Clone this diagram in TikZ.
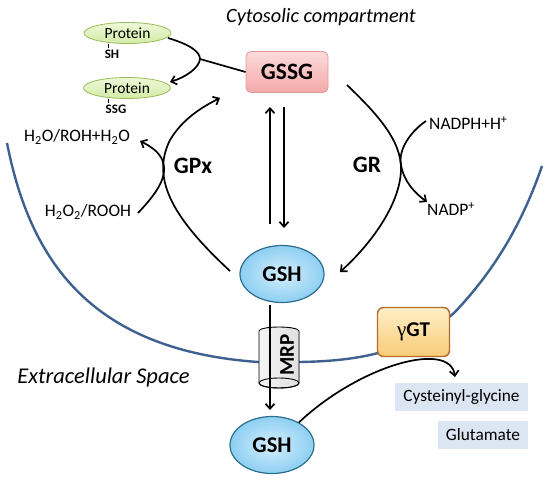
\documentclass[tikz,border=0pt]{standalone}
\usepackage{fontspec}
\setmainfont{Carlito}
\newfontfamily\gsym{Liberation Serif}
\usetikzlibrary{arrows.meta,shapes.geometric}
\definecolor{membr}{HTML}{3F6190}
\definecolor{protlt}{HTML}{EEF8D8}
\definecolor{protdk}{HTML}{D3EBA6}
\definecolor{protbd}{HTML}{9BBB59}
\definecolor{gshlt}{HTML}{D6EFFC}
\definecolor{gshdk}{HTML}{8DCFF2}
\definecolor{gshbd}{HTML}{2D6E8E}
\definecolor{gssglt}{HTML}{FBDADA}
\definecolor{gssgdk}{HTML}{F4A9A9}
\definecolor{gssgbd}{HTML}{E39C9C}
\definecolor{ggtlt}{HTML}{FEEFC8}
\definecolor{ggtdk}{HTML}{F9CB78}
\definecolor{ggtbd}{HTML}{B46A2A}
\definecolor{prodbg}{HTML}{DCE6F2}
\tikzset{
  lbl/.style={font=\fontsize{17.5}{20}\selectfont, inner sep=0},
  enz/.style={font=\bfseries\fontsize{23.5}{26}\selectfont, inner sep=0},
  title/.style={font=\itshape\fontsize{20.3}{24}\selectfont, inner sep=0},
  conn/.style={line width=1.7pt, draw=black},
  memb/.style={line width=2.4pt, draw=membr},
  protein/.style={ellipse, minimum width=87, minimum height=21, inner sep=0, draw=protbd, line width=0.8pt, top color=protlt, bottom color=protdk, font=\fontsize{15.5}{17}\selectfont},
  tag/.style={font=\bfseries\fontsize{13}{15}\selectfont, inner sep=0},
  gshnode/.style={ellipse, minimum width=84, minimum height=57, inner sep=0, draw=gshbd, line width=1.2pt, inner color=gshlt, outer color=gshdk, font=\bfseries\fontsize{22.5}{25}\selectfont},
  gssgnode/.style={rectangle, rounded corners=5pt, minimum width=82, minimum height=41, inner sep=0, draw=gssgbd, line width=0.9pt, top color=gssglt, bottom color=gssgdk, font=\bfseries\fontsize{23.5}{26}\selectfont},
  ggtnode/.style={rectangle, rounded corners=6pt, minimum width=72, minimum height=49, inner sep=0, draw=ggtbd, line width=1.4pt, top color=ggtlt, bottom color=ggtdk, font=\bfseries\fontsize{21}{24}\selectfont},
  prod/.style={rectangle, fill=prodbg, inner sep=0, minimum height=28, font=\fontsize{17.3}{20}\selectfont},
}
\begin{document}
\begin{tikzpicture}[x=1pt,y=-1pt,>={Straight Barb[length=5pt,width=9pt]}]
\useasboundingbox (0,0) rectangle (550,482);
\fill[white] (0,0) rectangle (550,482);

% membrane
\draw[memb] (7,143) .. controls (30,260) and (90,350) .. (258,362) -- (300,362)
  .. controls (360,361) and (410,352) .. (455,312)
  .. controls (490,275) and (520,230) .. (542,166);

% MRP cylinder
\filldraw[draw=black, line width=0.9pt, left color=gray!8, right color=gray!25]
  (259,331) arc[start angle=180,end angle=360,x radius=20,y radius=4]
  -- (299,383) arc[start angle=0,end angle=180,x radius=20,y radius=5] -- cycle;
\draw[black, line width=0.9pt] (279,383) ellipse[x radius=20,y radius=5];

% nodes
\node[title] (cyto) at (321,17) {Cytosolic compartment};
\node[title, font=\itshape\fontsize{22.5}{26}\selectfont] (extra) at (103.5,377) {Extracellular Space};
\node[protein] (p1) at (127.5,33) {Protein};
\node[protein] (p2) at (127,88) {Protein};
\node[tag] (sh) at (112,54) {SH};
\node[tag] (ssg) at (116,109) {SSG};
\draw[black, line width=0.7pt] (108,43.5) -- (108,47.5);
\draw[black, line width=0.7pt] (108,98.5) -- (108,102.5);
\node[gssgnode] (gssg) at (287,72) {GSSG};
\node[gshnode] (gsh1) at (282,274) {GSH};
\node[gshnode] (gsh2) at (272,445) {GSH};
\node[ggtnode] (ggt) at (413.5,332) {{\gsym\mdseries γ}GT};
\node[prod, minimum width=133] (cys) at (461.5,397) {Cysteinyl-glycine};
\node[prod, minimum width=90] (glu) at (483,434.5) {Glutamate};
\node[enz] (gpx) at (193,166) {GPx};
\node[enz] (gr) at (367,165) {GR};
\node[lbl] (h2o) at (77,137) {H\textsubscript{2}O/ROH+H\textsubscript{2}O};
\node[lbl] (h2o2) at (88,212) {H\textsubscript{2}O\textsubscript{2}/ROOH};
\node[lbl, anchor=west] (nadph) at (429,123) {NADPH+H\textsuperscript{+}};
\node[lbl, anchor=west] (nadp) at (427,209) {NADP\textsuperscript{+}};
\node[font=\bfseries\fontsize{21}{24}\selectfont, rotate=90, inner sep=0] (mrp) at (287,355) {MRP};

% protein glutathionylation
\coordinate (j) at (200,59);
\coordinate (p1e) at (168,38);
\coordinate (p2e) at (170,82);
\draw[conn, ->] (p1e) .. controls (188,44) and (200,51) .. (j)
   .. controls (199,68) and (186,77) .. (p2e);
\draw[conn] (gssg.west) -- (j);

% GSSG <-> GSH
\coordinate (up1) at (270,224);
\coordinate (up2) at (270,107);
\coordinate (dn1) at (284,107);
\coordinate (dn2) at (284,228);
\draw[conn, ->] (up1) -- (up2);
\draw[conn, ->] (dn1) -- (dn2);

% GPx
\coordinate (gpxs) at (230,271);
\coordinate (gpxe) at (220,98);
\draw[conn, ->] (gpxs) .. controls (175,220) and (150,180) .. (170,140)
   .. controls (182,120) and (200,108) .. (gpxe);
\coordinate (perox) at (138,213);
\coordinate (water) at (140,141);
\draw[conn, ->] (perox) .. controls (155,195) and (168,178) .. (163,162)
   .. controls (160,152) and (150,146) .. (water);

% GR
\coordinate (grs) at (347,85);
\coordinate (gre) at (340,272);
\draw[conn, ->] (grs) .. controls (375,112) and (402,140) .. (401,170)
   .. controls (400,205) and (370,245) .. (gre);
\coordinate (nadphs) at (426,121);
\coordinate (nadpe) at (427,202);
\draw[conn, ->] (nadphs) .. controls (410,132) and (398,150) .. (401,165)
   .. controls (404,182) and (415,193) .. (nadpe);

% MRP transport
\coordinate (mrps) at (270,305);
\coordinate (mrpe) at (270,410);
\draw[conn, ->] (mrps) -- (mrpe);

% gamma-GT
\coordinate (ggte) at (455,377);
\draw[conn, ->] (gsh2.40) .. controls (360,365) and (450,340) .. (ggte);

\end{tikzpicture}
\end{document}
